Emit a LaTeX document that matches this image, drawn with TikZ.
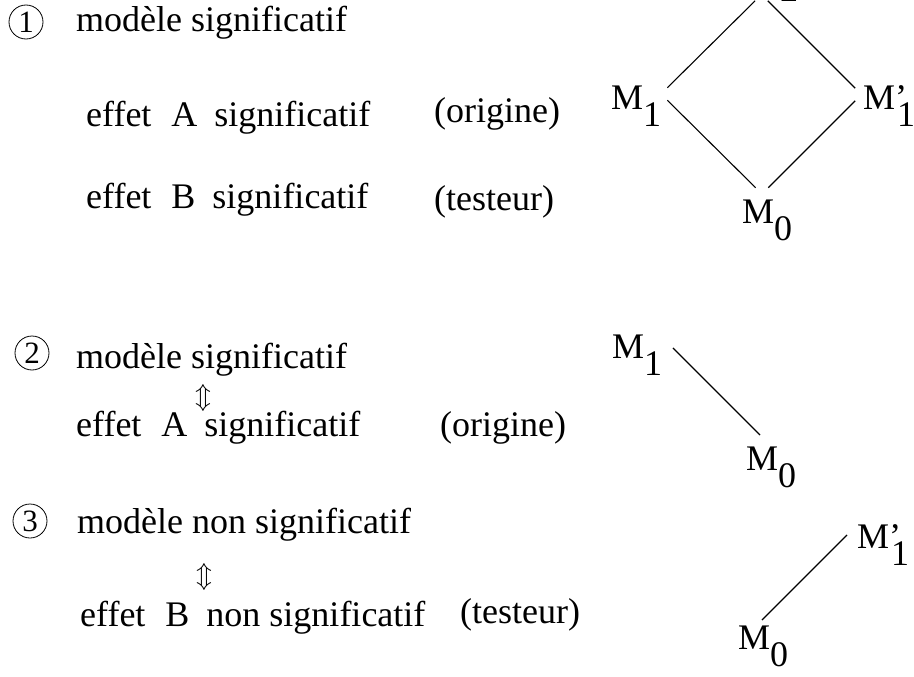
\documentclass[tikz,border=0pt]{standalone}
\usepackage{fontspec}
\setmainfont{Liberation Serif}
\usepackage{graphicx}
\usetikzlibrary{positioning}
\newcommand{\lowsub}[1]{\raisebox{-17pt}{#1}}

\begin{document}
\begin{tikzpicture}[x=1pt, y=-1pt,
  txt/.style={anchor=base west, inner sep=0pt, font=\fontsize{36}{43}\selectfont},
  num/.style={draw, circle, line width=0.8pt, minimum size=34pt, inner sep=0pt, font=\fontsize{31}{36}\selectfont},
  link/.style={line width=1.1pt, shorten <=9pt, shorten >=9pt},
  equiv/.style={inner sep=0pt, font=\fontsize{10}{12}\selectfont}
]
\useasboundingbox (0,0) rectangle (914,677);
\clip (0,0) rectangle (914,677);

% case 1
\node[num] (num1) at (26,22) {1};
\node[txt] (mod1) at (76,32) {modèle significatif};
\node[txt] (effA1) at (86,126) {effet\hspace{20pt}A\hspace{17pt}significatif};
\node[txt] (orig1) at (434,123) {(origine)};
\node[txt] (effB1) at (86,208) {effet\hspace{20pt}B\hspace{17pt}significatif};
\node[txt] (test1) at (434,210) {(testeur)};

\node[txt] (m2) at (748,-15) {M\lowsub{2}};
\node[txt] (m1) at (611,110) {M\lowsub{1}};
\node[txt] (m1p) at (863,110) {M\rlap{’}\hspace{2pt}\lowsub{1}};
\node[txt] (m0) at (742,223) {M\lowsub{0}};
\coordinate (v2) at (761.5,-5.5);
\coordinate (v1) at (661,94);
\coordinate (v1p) at (861.5,94.5);
\coordinate (v0) at (762,194);
\draw[link] (v1) -- (v2);
\draw[link] (v2) -- (v1p);
\draw[link] (v1) -- (v0);
\draw[link] (v0) -- (v1p);

% case 2
\node[num] (num2) at (32,353) {2};
\node[txt] (mod2) at (76,368) {modèle significatif};
\node[equiv] (eq2) at (203,398) {\scalebox{2.6}{$\Updownarrow$}};
\node[txt] (effA2) at (76,436) {effet\hspace{20pt}A\hspace{17pt}significatif};
\node[txt] (orig2) at (440,436) {(origine)};

\node[txt] (m1b) at (612,358) {M\lowsub{1}};
\node[txt] (m0b) at (746,470) {M\lowsub{0}};
\coordinate (v1b) at (666.6,341.6);
\coordinate (v0b) at (766.4,441.4);
\draw[link] (v1b) -- (v0b);

% case 3
\node[num] (num3) at (30,521) {3};
\node[txt] (mod3) at (77,533) {modèle non significatif};
\node[equiv] (eq3) at (204,577) {\scalebox{2.6}{$\Updownarrow$}};
\node[txt] (effB3) at (80,626) {effet\hspace{20pt}B\hspace{17pt}non significatif};
\node[txt] (test3) at (460,623) {(testeur)};

\node[txt] (m1pc) at (857,548) {M\rlap{’}\hspace{2pt}\lowsub{1}};
\node[txt] (m0c) at (738,649) {M\lowsub{0}};
\coordinate (v1pc) at (853.4,528.6);
\coordinate (v0c) at (755.6,626.4);
\draw[link] (v1pc) -- (v0c);
\end{tikzpicture}
\end{document}
